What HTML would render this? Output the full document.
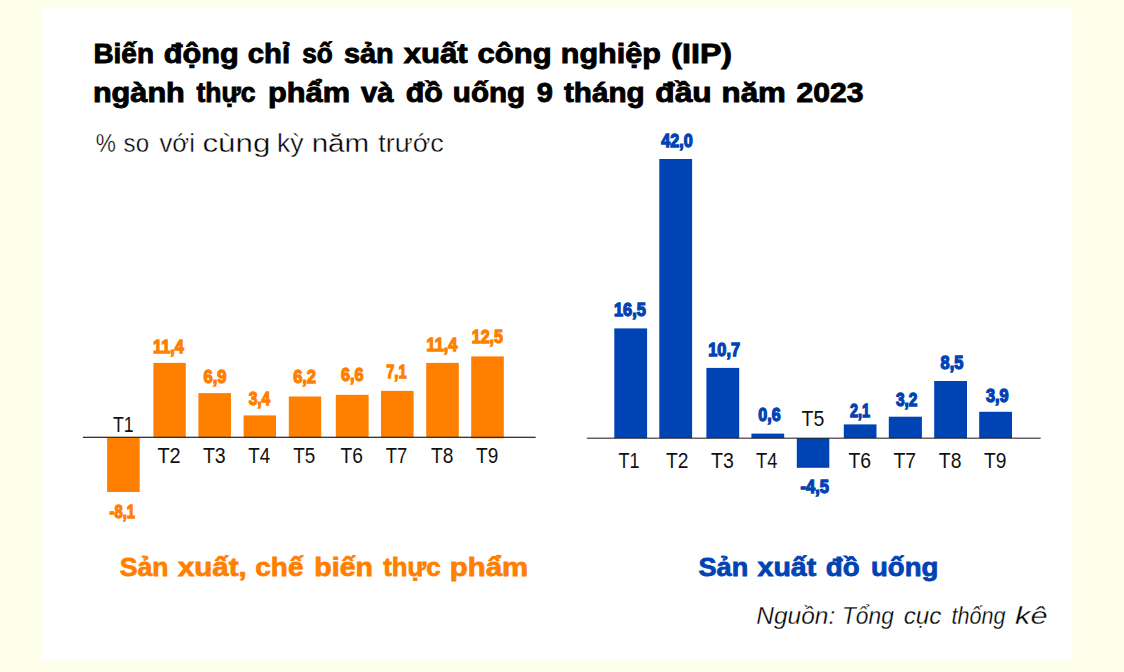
<!DOCTYPE html>
<html lang="vi"><head><meta charset="utf-8"><title>Biến động chỉ số sản xuất công nghiệp (IIP)</title>
<style>
html,body{margin:0;padding:0;background:#fdfeea;}
body{width:1124px;height:672px;overflow:hidden;}
svg{display:block;}
text{font-family:'Liberation Sans', sans-serif;white-space:pre;}
.b{font-weight:bold;} .i{font-style:italic;}
</style></head><body>
<svg width="1124" height="672" viewBox="0 0 1124 672">
<rect x="0" y="0" width="1124" height="672" fill="#fdfeea"/>
<rect x="41" y="8" width="1031.4" height="651.6" fill="#ffffff"/>

<rect x="107.1" y="437.3" width="32.6" height="54.7" fill="#ff7f00"/>
<rect x="153.4" y="362.9" width="32.4" height="74.4" fill="#ff7f00"/>
<rect x="198.4" y="393.1" width="32.6" height="44.2" fill="#ff7f00"/>
<rect x="243.6" y="415.4" width="32.4" height="21.9" fill="#ff7f00"/>
<rect x="288.8" y="396.5" width="32.4" height="40.8" fill="#ff7f00"/>
<rect x="335.8" y="394.8" width="32.8" height="42.5" fill="#ff7f00"/>
<rect x="381.0" y="390.9" width="32.6" height="46.4" fill="#ff7f00"/>
<rect x="426.2" y="362.9" width="32.6" height="74.4" fill="#ff7f00"/>
<rect x="471.2" y="356.4" width="32.6" height="81.9" fill="#ff7f00"/>
<rect x="614.3" y="328.4" width="32.8" height="109.7" fill="#0043b4"/>
<rect x="659.3" y="159.0" width="32.8" height="279.1" fill="#0043b4"/>
<rect x="706.4" y="367.9" width="32.8" height="70.2" fill="#0043b4"/>
<rect x="751.4" y="433.6" width="32.8" height="4.5" fill="#0043b4"/>
<rect x="796.8" y="438.1" width="32.5" height="29.7" fill="#0043b4"/>
<rect x="843.8" y="424.4" width="32.7" height="13.7" fill="#0043b4"/>
<rect x="888.8" y="416.7" width="33.1" height="21.4" fill="#0043b4"/>
<rect x="934.2" y="381.0" width="32.8" height="57.1" fill="#0043b4"/>
<rect x="979.2" y="411.8" width="32.8" height="26.3" fill="#0043b4"/>
<rect x="82.9" y="436.7" width="452.8" height="1.2" fill="#222"/>
<rect x="586.9" y="437.65" width="453.8" height="1.05" fill="#222"/>
<text class="b" transform="translate(93.43,62.65) scale(1.0349,1)" font-size="27" fill="#000000" stroke="#000000" stroke-width="0.9">Biến</text>
<text class="b" transform="translate(163.77,62.65) scale(1.1386,1)" font-size="27" fill="#000000" stroke="#000000" stroke-width="0.9">động</text>
<text class="b" transform="translate(247.80,62.65) scale(1.0831,1)" font-size="27" fill="#000000" stroke="#000000" stroke-width="0.9">chỉ</text>
<text class="b" transform="translate(302.14,62.65) scale(0.9713,1)" font-size="27" fill="#000000" stroke="#000000" stroke-width="0.9">số</text>
<text class="b" transform="translate(343.88,62.65) scale(1.0690,1)" font-size="27" fill="#000000" stroke="#000000" stroke-width="0.9">sản</text>
<text class="b" transform="translate(403.72,62.65) scale(1.1537,1)" font-size="27" fill="#000000" stroke="#000000" stroke-width="0.9">xuất</text>
<text class="b" transform="translate(477.57,62.65) scale(1.1478,1)" font-size="27" fill="#000000" stroke="#000000" stroke-width="0.9">công</text>
<text class="b" transform="translate(560.78,62.65) scale(1.1320,1)" font-size="27" fill="#000000" stroke="#000000" stroke-width="0.9">nghiệp</text>
<text class="b" transform="translate(671.35,62.65) scale(1.1903,1)" font-size="27" fill="#000000" stroke="#000000" stroke-width="0.9">(IIP)</text>
<text class="b" transform="translate(92.88,102.15) scale(1.1361,1)" font-size="27" fill="#000000" stroke="#000000" stroke-width="0.9">ngành</text>
<text class="b" transform="translate(196.44,102.15) scale(0.9814,1)" font-size="27" fill="#000000" stroke="#000000" stroke-width="0.9">thực</text>
<text class="b" transform="translate(267.97,102.15) scale(1.1396,1)" font-size="27" fill="#000000" stroke="#000000" stroke-width="0.9">phẩm</text>
<text class="b" transform="translate(360.99,102.15) scale(1.0841,1)" font-size="27" fill="#000000" stroke="#000000" stroke-width="0.9">và</text>
<text class="b" transform="translate(405.78,102.15) scale(1.1268,1)" font-size="27" fill="#000000" stroke="#000000" stroke-width="0.9">đồ</text>
<text class="b" transform="translate(452.80,102.15) scale(1.0966,1)" font-size="27" fill="#000000" stroke="#000000" stroke-width="0.9">uống</text>
<text class="b" transform="translate(536.68,102.15) scale(1.0755,1)" font-size="27" fill="#000000" stroke="#000000" stroke-width="0.9">9</text>
<text class="b" transform="translate(563.89,102.15) scale(1.0989,1)" font-size="27" fill="#000000" stroke="#000000" stroke-width="0.9">tháng</text>
<text class="b" transform="translate(655.35,102.15) scale(1.1743,1)" font-size="27" fill="#000000" stroke="#000000" stroke-width="0.9">đầu</text>
<text class="b" transform="translate(721.56,102.15) scale(1.1579,1)" font-size="27" fill="#000000" stroke="#000000" stroke-width="0.9">năm</text>
<text class="b" transform="translate(796.50,102.15) scale(1.1157,1)" font-size="27" fill="#000000" stroke="#000000" stroke-width="0.9">2023</text>
<text transform="translate(95.83,152.20) scale(0.8673,1)" font-size="26.1" fill="#000" stroke="#ffffff" stroke-width="0.4">%</text>
<text transform="translate(123.62,152.20) scale(0.9232,1)" font-size="26.1" fill="#000" stroke="#ffffff" stroke-width="0.4">so</text>
<text transform="translate(159.40,152.20) scale(0.9868,1)" font-size="26.1" fill="#000" stroke="#ffffff" stroke-width="0.4">với</text>
<text transform="translate(202.46,152.20) scale(1.1999,1)" font-size="26.1" fill="#000" stroke="#ffffff" stroke-width="0.4">cùng</text>
<text transform="translate(277.08,152.20) scale(1.0143,1)" font-size="26.1" fill="#000" stroke="#ffffff" stroke-width="0.4">kỳ</text>
<text transform="translate(311.64,152.20) scale(1.1352,1)" font-size="26.1" fill="#000" stroke="#ffffff" stroke-width="0.4">năm</text>
<text transform="translate(378.29,152.20) scale(1.0298,1)" font-size="26.1" fill="#000" stroke="#ffffff" stroke-width="0.4">trước</text>
<text class="b" transform="translate(119.80,575.80) scale(1.0018,1)" font-size="26.5" fill="#ff7f00" stroke="#ff7f00" stroke-width="0.8">Sản</text>
<text class="b" transform="translate(177.94,575.80) scale(1.1111,1)" font-size="26.5" fill="#ff7f00" stroke="#ff7f00" stroke-width="0.8">xuất,</text>
<text class="b" transform="translate(255.37,575.80) scale(1.0519,1)" font-size="26.5" fill="#ff7f00" stroke="#ff7f00" stroke-width="0.8">chế</text>
<text class="b" transform="translate(314.25,575.80) scale(1.0793,1)" font-size="26.5" fill="#ff7f00" stroke="#ff7f00" stroke-width="0.8">biến</text>
<text class="b" transform="translate(383.19,575.80) scale(0.9729,1)" font-size="26.5" fill="#ff7f00" stroke="#ff7f00" stroke-width="0.8">thực</text>
<text class="b" transform="translate(449.83,575.80) scale(1.1087,1)" font-size="26.5" fill="#ff7f00" stroke="#ff7f00" stroke-width="0.8">phẩm</text>
<text class="b" transform="translate(698.51,575.90) scale(1.0225,1)" font-size="26.5" fill="#0043b4" stroke="#0043b4" stroke-width="0.8">Sản</text>
<text class="b" transform="translate(757.53,575.90) scale(1.0764,1)" font-size="26.5" fill="#0043b4" stroke="#0043b4" stroke-width="0.8">xuất</text>
<text class="b" transform="translate(825.87,575.90) scale(1.0473,1)" font-size="26.5" fill="#0043b4" stroke="#0043b4" stroke-width="0.8">đồ</text>
<text class="b" transform="translate(870.98,575.90) scale(1.0401,1)" font-size="26.5" fill="#0043b4" stroke="#0043b4" stroke-width="0.8">uống</text>
<text class="i" transform="translate(756.25,624.25) scale(1.0300,1)" font-size="23.8" fill="#000" stroke="#ffffff" stroke-width="0.3">Nguồn:</text>
<text class="i" transform="translate(841.94,624.25) scale(0.9582,1)" font-size="23.8" fill="#000" stroke="#ffffff" stroke-width="0.3">Tổng</text>
<text class="i" transform="translate(903.75,624.25) scale(1.0181,1)" font-size="23.8" fill="#000" stroke="#ffffff" stroke-width="0.3">cục</text>
<text class="i" transform="translate(951.46,624.25) scale(0.9065,1)" font-size="23.8" fill="#000" stroke="#ffffff" stroke-width="0.3">thống</text>
<text class="i" transform="translate(1015.01,624.25) scale(1.2928,1)" font-size="23.8" fill="#000" stroke="#ffffff" stroke-width="0.3">kê</text>
<text class="b" transform="translate(109.62,518.45) scale(0.8059,1)" font-size="18.3" fill="#ff7f00" stroke="#ff7f00" stroke-width="1.3">-8,1</text>
<text class="b" transform="translate(153.09,352.55) scale(0.8878,1)" font-size="18.3" fill="#ff7f00" stroke="#ff7f00" stroke-width="1.3">11,4</text>
<text class="b" transform="translate(203.49,382.75) scale(0.9041,1)" font-size="18.3" fill="#ff7f00" stroke="#ff7f00" stroke-width="1.3">6,9</text>
<text class="b" transform="translate(248.65,405.45) scale(0.8458,1)" font-size="18.3" fill="#ff7f00" stroke="#ff7f00" stroke-width="1.3">3,4</text>
<text class="b" transform="translate(293.18,382.75) scale(0.8965,1)" font-size="18.3" fill="#ff7f00" stroke="#ff7f00" stroke-width="1.3">6,2</text>
<text class="b" transform="translate(341.08,380.85) scale(0.8852,1)" font-size="18.3" fill="#ff7f00" stroke="#ff7f00" stroke-width="1.3">6,6</text>
<text class="b" transform="translate(386.22,378.25) scale(0.7986,1)" font-size="18.3" fill="#ff7f00" stroke="#ff7f00" stroke-width="1.3">7,1</text>
<text class="b" transform="translate(426.59,351.45) scale(0.8906,1)" font-size="18.3" fill="#ff7f00" stroke="#ff7f00" stroke-width="1.3">11,4</text>
<text class="b" transform="translate(471.79,343.35) scale(0.8736,1)" font-size="18.3" fill="#ff7f00" stroke="#ff7f00" stroke-width="1.3">12,5</text>
<text class="b" transform="translate(613.99,316.25) scale(0.8932,1)" font-size="18.3" fill="#0043b4" stroke="#0043b4" stroke-width="1.3">16,5</text>
<text class="b" transform="translate(661.37,147.25) scale(0.8798,1)" font-size="18.3" fill="#0043b4" stroke="#0043b4" stroke-width="1.3">42,0</text>
<text class="b" transform="translate(708.29,355.85) scale(0.8904,1)" font-size="18.3" fill="#0043b4" stroke="#0043b4" stroke-width="1.3">10,7</text>
<text class="b" transform="translate(758.37,421.15) scale(0.8777,1)" font-size="18.3" fill="#0043b4" stroke="#0043b4" stroke-width="1.3">0,6</text>
<text class="b" transform="translate(800.59,493.05) scale(0.9009,1)" font-size="18.3" fill="#0043b4" stroke="#0043b4" stroke-width="1.3">-4,5</text>
<text class="b" transform="translate(850.01,416.95) scale(0.7873,1)" font-size="18.3" fill="#0043b4" stroke="#0043b4" stroke-width="1.3">2,1</text>
<text class="b" transform="translate(895.95,406.35) scale(0.8438,1)" font-size="18.3" fill="#0043b4" stroke="#0043b4" stroke-width="1.3">3,2</text>
<text class="b" transform="translate(940.58,369.45) scale(0.8928,1)" font-size="18.3" fill="#0043b4" stroke="#0043b4" stroke-width="1.3">8,5</text>
<text class="b" transform="translate(985.88,402.05) scale(0.8928,1)" font-size="18.3" fill="#0043b4" stroke="#0043b4" stroke-width="1.3">3,9</text>
<text transform="translate(112.90,432.10) scale(0.8353,1)" font-size="21.2" fill="#111">T1</text>
<text transform="translate(157.40,462.90) scale(0.9439,1)" font-size="21.2" fill="#111">T2</text>
<text transform="translate(202.90,462.90) scale(0.9231,1)" font-size="21.2" fill="#111">T3</text>
<text transform="translate(248.30,462.90) scale(0.8860,1)" font-size="21.2" fill="#111">T4</text>
<text transform="translate(293.30,462.90) scale(0.8896,1)" font-size="21.2" fill="#111">T5</text>
<text transform="translate(340.40,462.90) scale(0.9064,1)" font-size="21.2" fill="#111">T6</text>
<text transform="translate(385.70,462.90) scale(0.8688,1)" font-size="21.2" fill="#111">T7</text>
<text transform="translate(430.90,462.90) scale(0.9064,1)" font-size="21.2" fill="#111">T8</text>
<text transform="translate(476.10,462.90) scale(0.8980,1)" font-size="21.2" fill="#111">T9</text>
<text transform="translate(618.50,467.60) scale(0.8521,1)" font-size="21.2" fill="#111">T1</text>
<text transform="translate(666.10,467.60) scale(0.9064,1)" font-size="21.2" fill="#111">T2</text>
<text transform="translate(711.10,467.60) scale(0.9231,1)" font-size="21.2" fill="#111">T3</text>
<text transform="translate(756.10,467.60) scale(0.8620,1)" font-size="21.2" fill="#111">T4</text>
<text transform="translate(801.50,426.30) scale(0.9189,1)" font-size="21.2" fill="#111">T5</text>
<text transform="translate(848.40,467.60) scale(0.9147,1)" font-size="21.2" fill="#111">T6</text>
<text transform="translate(893.40,467.60) scale(0.9189,1)" font-size="21.2" fill="#111">T7</text>
<text transform="translate(938.80,467.60) scale(0.9147,1)" font-size="21.2" fill="#111">T8</text>
<text transform="translate(984.10,467.60) scale(0.9064,1)" font-size="21.2" fill="#111">T9</text>
</svg></body></html>
